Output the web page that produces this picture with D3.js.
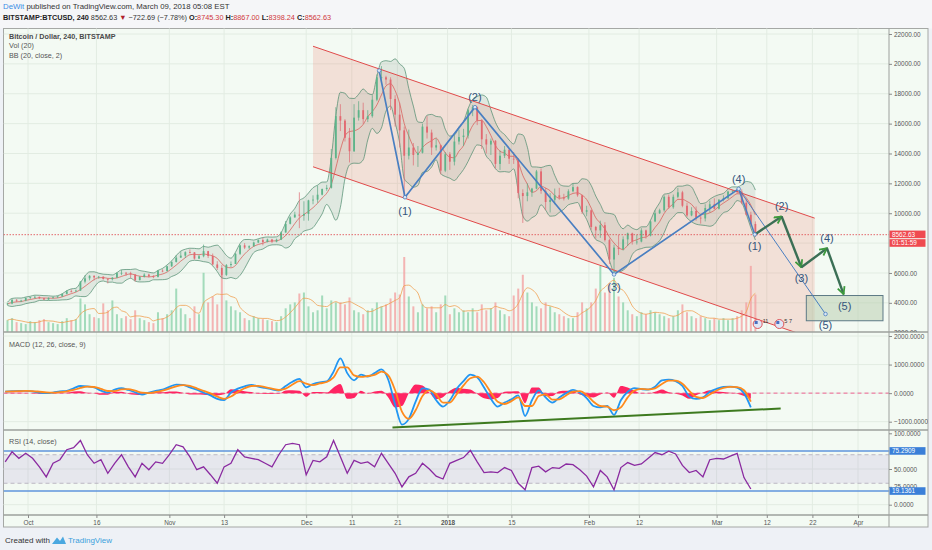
<!DOCTYPE html>
<html>
<head>
<meta charset="utf-8">
<script src="https://cdn.jsdelivr.net/npm/d3@7"></script>
<style>
body{margin:0;background:#eef1f6;}
svg{display:block;font-family:"Liberation Sans",Arial,sans-serif;}
</style>
</head>
<body>
<svg id="chart" width="932" height="550"></svg>
<script>
// daily bars, first bar = 26 Sep 2017
startDay = new Date(2017, 8, 26);
firstOpen = 3900;
closes = [3950,4200,4150,4150,4330,
 4380,4400,4310,4220,4330,4370,4430,4600,4770,4760,4820,5420,5640,5810,5700,5750,5600,5580,5690,5990,6010,5980,5900,5520,5730,5890,5770,5740,6150,6130,6450,
 6740,7030,7160,7390,7380,6960,7120,7460,7140,6570,6340,5870,6530,6600,7280,7850,7700,7790,8040,8200,8070,8240,8100,8230,8710,9290,9720,9910,9840,9950,
 10860,10910,11240,11620,11700,13700,16500,16200,15050,14150,16400,16900,16300,16500,17600,19100,19100,18950,17650,16600,15550,13850,14400,13900,14050,15800,15400,14400,14550,12850,13950,
 13450,14800,15100,15200,16900,17100,16200,14950,14600,14850,13300,13850,14250,13650,13600,11350,11150,11400,11650,12800,11500,10750,10900,11200,11050,10980,11470,11750,11200,10100,10200,
 9080,8850,9200,8200,6900,7700,7600,8250,8650,8100,8100,8850,8500,9450,10000,10200,11100,10400,11100,11400,10500,9850,10150,9700,9650,10350,10600,10300,
 10900,11000,11450,11500,11450,10700,9900,9280,8560];
highs = [4000,4250,4250,4200,4360,
 4400,4480,4420,4320,4360,4420,4450,4620,4850,4900,4880,5450,5850,5850,5840,5800,5780,5640,5720,6050,6200,6070,6080,5900,5800,5980,5950,5850,6200,6250,6480,
 6780,7200,7450,7450,7580,7400,7220,7900,7480,7300,6790,6540,6600,6770,7330,7900,8000,7850,8100,8250,8350,8300,8280,8300,8780,9480,9800,10100,11400,10800,
 10900,11200,11850,11650,11900,14300,17100,17300,16300,15700,17300,17500,17400,16900,17900,19300,19850,19200,19100,17900,17400,15800,15600,14700,14500,16000,16500,15600,15000,14600,14100,
 14100,15250,15600,15650,17000,17250,17150,16300,15300,15000,14900,14200,14500,14300,14100,13700,11600,12000,11700,12900,13000,11700,11350,11650,11700,11300,11600,12000,11800,11250,10500,
 10250,9150,9500,9400,8300,7900,8550,8450,8700,8700,8550,9000,8900,9500,10200,10300,11200,11250,11250,11700,11500,10700,10400,10450,9880,10600,10850,11000,
 10950,11200,11500,11530,11650,11600,10950,10100,9450];
lows = [3850,3900,4050,4050,4100,
 4250,4300,4250,4180,4200,4300,4330,4400,4560,4700,4750,4800,5300,5500,5500,5620,5550,5300,5500,5650,5850,5800,5650,5420,5500,5700,5700,5650,5700,6050,6100,
 6400,6700,7000,7000,7300,6900,6950,7050,7000,6500,6200,5700,5800,6400,6600,7200,7600,7600,7750,8000,7850,8050,8000,8050,8200,8700,9250,9700,9000,9500,
 9500,10600,10700,11200,11500,11650,13600,15500,14800,13400,14100,16200,16000,16100,16400,17500,18800,18600,16900,15800,14400,11100,13600,13200,13100,14000,15000,13900,14200,12600,12750,
 12900,13200,14600,14500,15000,16500,15900,14300,14000,13900,13000,12900,13700,13300,13300,11000,9350,10800,11100,11600,11300,10200,10050,10600,10900,10850,10900,11400,11100,9950,9800,
 8900,8300,8350,8100,6600,5920,7200,7500,7800,7900,7900,8050,8300,8450,9400,9950,10100,10300,10300,11000,10400,9750,9800,9500,9300,9450,10050,10250,
 10250,10800,10950,11300,11300,10600,9850,9150,8400];
volumes = [12,14,10,9,8,
 11,10,12,13,10,9,8,11,14,12,13,34,28,18,15,14,29,22,32,18,14,16,13,22,14,12,10,9,20,14,18,
 22,44,24,18,14,26,18,60,30,36,28,58,32,26,22,20,14,12,16,14,13,12,11,10,16,24,28,30,39,40,
 26,20,22,37,24,32,30,30,28,35,22,20,18,22,24,30,26,28,34,40,38,76,36,26,20,28,24,26,20,28,37,
 18,24,20,22,20,24,20,28,22,24,30,22,18,16,37,44,58,40,30,26,24,30,26,20,18,16,14,14,20,30,24,
 30,44,67,40,48,55,36,30,22,18,16,20,18,22,20,18,16,14,16,22,28,20,16,14,16,14,12,14,
 12,14,12,14,16,22,30,67,38];

// oscillators read every 36 hours from the start
oscStepHours = 36;
macdLine = [56,70,80,80,60,20,0,20,60,80, 170,250,240,200,90,20,120,175,110,30,
 -50,20,80,120,220,300,290,200,120,20, -80,-200,-240,20,160,240,290,230,180,130,
 85,250,400,500,200,320,380,410,750,1220, 700,450,650,580,700,830,470,-400,-1100,-900,
 -300,170,120,-250,-470,-250,150,420,650,550, 200,-200,-470,-330,-220,-80,-800,-250,100,-150,
 -330,-150,0,117,20,-175,-450,-500,-450,-760, -250,50,175,140,120,220,450,470,420,250,
 -117,-200,-150,50,150,220,230,190,0,-500];
macdSignal = [50,60,70,78,72,50,25,15,35,65, 110,180,225,215,150,75,70,130,140,85,
 15,0,40,90,160,240,280,250,170,80, -10,-120,-200,-120,40,170,250,255,210,160,
 110,160,300,420,330,280,340,390,550,900, 900,620,570,600,640,750,620,100,-650,-900,
 -600,-100,100,-40,-330,-330,-40,270,520,580, 380,20,-300,-380,-280,-150,-450,-450,-100,-40,
 -230,-220,-80,50,70,-60,-300,-450,-470,-600, -500,-150,90,150,135,170,320,440,440,330,
 80,-130,-170,-50,90,180,220,210,100,-300];
rsiValues = [60,74,65,72,65,53,39,58,63,77, 80,90,70,58,63,44,58,70,53,39,
 58,49,60,58,70,84,81,67,49,53, 42,30,53,58,77,67,65,63,58,53,
 70,84,86,84,42,62,60,67,90,67, 44,62,58,60,53,72,58,44,25,39,
 44,58,50,40,36,58,62,66,76,60, 45,46,45,52,48,30,21,52,54,46,
 52,51,57,56,49,40,25,48,39,21, 52,59,55,57,65,73,70,75,71,55,
 45,48,39,63,65,64,68,72,38,22];

// drawings
channelDates = ["2017-12-02T12:00","2018-03-22T12:00"];
channelTop = [21180, 9670];
channelBottom = [13110, 1580];
waveDates = ["2017-12-17T00:00","2017-12-22T16:00","2018-01-07T00:00","2018-02-06T12:00","2018-03-05T20:00"];
waveValues = [19550, 11070, 17100, 5900, 11630];
waveLabels = ["", "(1)", "(2)", "(3)", "(4)"];
projDates = ["2018-03-09T09:00","2018-03-15T06:00","2018-03-19T14:00","2018-03-25T05:00","2018-03-28T20:00"];
projValues = [8580, 9780, 6380, 7650, 4580];
projLabels = ["(1)", "(2)", "(3)", "(4)"];
altEndDate = "2018-03-24T21:00";
altEndValue = 3250;
targetDates = ["2018-03-20T16:00","2018-04-06T11:30"];
targetValues = [4490, 2800];
macdTrendDates = ["2017-12-19T22:00","2018-03-15T01:00"];
macdTrendValues = [-1200, -540];
lastPrice = 8562.63;
rsiLevels = [75.2909, 19.1361];

priceGrid = [2000,4000,6000,8000,10000,12000,14000,16000,18000,20000,22000];
priceTicks = [2000,4000,6000,10000,12000,14000,16000,18000,20000,22000];
macdTicks = [2000,1000,0,-1000];
rsiTicks = [100,50,25,0];
timeTicks = ["2017-10-01","2017-10-16","2017-11-01","2017-11-13","2017-12-01","2017-12-11","2017-12-21","2018-01-01","2018-01-15","2018-02-01","2018-02-12","2018-03-01","2018-03-12","2018-03-22","2018-04-01"];
timeLabels = ["Oct","16","Nov","13","Dec","11","21","2018","15","Feb","12","Mar","12","22","Apr"];

parseT = d3.timeParse("%Y-%m-%dT%H:%M");
parseD = d3.timeParse("%Y-%m-%d");

L = 3.5; R = 889; AX = 928;
pTop = 28.5; pBot = 332; mBot = 430; rBot = 515; fBot = 527;

x = d3.scaleTime().domain([new Date(2017,9,1), new Date(2018,3,1)]).range([28, 858]);
y = d3.scaleLinear().domain([2000,22000]).range([332.7,34]);
yv = d3.scaleLinear().domain([0,76]).range([pBot,257]);
ym = d3.scaleLinear().domain([-1000,2000]).range([421.7,336]);
yr = d3.scaleLinear().domain([0,100]).range([504.7,433.3]);

svg = d3.select("#chart");
defs = svg.append("defs");
function clip(id, x0, y0, x1, y1){
	defs.append("clipPath").attr("id",id).append("rect")
		.attr("x",x0).attr("y",y0).attr("width",x1-x0).attr("height",y1-y0);
}
clip("cp", L, pTop, R, pBot);
clip("cm", L, pBot, R, mBot);
clip("cr", L, mBot, R, rBot);
clip("cpa", R, pTop, AX, pBot);
clip("cma", R, pBot, AX, mBot);
clip("cra", R, mBot, AX, rBot);

mk = defs.append("marker").attr("id","arrow").attr("viewBox","0 0 10 10")
	.attr("refX",9).attr("refY",5).attr("markerWidth",9).attr("markerHeight",9)
	.attr("markerUnits","userSpaceOnUse").attr("orient","auto");
mk.append("path").attr("d","M1,1 L9,5 L1,9").attr("fill","none")
	.attr("stroke","#3d9a3d").attr("stroke-width",2);

// backgrounds
svg.append("rect").attr("width",932).attr("height",550).attr("fill","#eef1f6");
svg.append("rect").attr("width",932).attr("height",pTop).attr("fill","#f5f6f8");
svg.append("rect").attr("x",L).attr("y",pTop).attr("width",AX-L).attr("height",fBot-pTop)
	.attr("fill","#f3faf3").attr("stroke","#a5a8a5");

// header
h1 = svg.append("text").attr("x",3).attr("y",8.8).style("font-size","7.8px");
h1.append("tspan").attr("fill","#3a8ee6").text("DeWit");
h1.append("tspan").attr("fill","#333").text(" published on TradingView.com, March 09, 2018 05:08 EST");
h2 = svg.append("text").attr("x",3).attr("y",19.6).style("font-size","7.3px").attr("fill","#333");
h2.append("tspan").attr("font-weight","bold").attr("fill","#222").text("BITSTAMP:BTCUSD, 240");
h2.append("tspan").text(" 8562.63 ");
h2.append("tspan").attr("fill","#b0202a").text("▼");
h2.append("tspan").text(" −722.69 (−7.78%) ");
[["O:","8745.30"],[" H:","8867.00"],[" L:","8398.24"],[" C:","8562.63"]].forEach(function(p){
	h2.append("tspan").attr("font-weight","bold").attr("fill","#222").text(p[0]);
	h2.append("tspan").attr("fill","#d0363c").text(p[1]);
});

// grid
grid = svg.append("g").attr("stroke","#e2ece2").attr("stroke-width",1);
timeTicks.forEach(function(t){
	let tx = x(parseD(t));
	grid.append("line").attr("x1",tx).attr("x2",tx).attr("y1",pTop).attr("y2",rBot);
});
priceGrid.forEach(function(v){
	grid.append("line").attr("x1",L).attr("x2",R).attr("y1",y(v)).attr("y2",y(v)).attr("clip-path","url(#cp)");
});
macdTicks.forEach(function(v){
	grid.append("line").attr("x1",L).attr("x2",R).attr("y1",ym(v)).attr("y2",ym(v)).attr("clip-path","url(#cm)");
});
[50,0].forEach(function(v){
	grid.append("line").attr("x1",L).attr("x2",R).attr("y1",yr(v)).attr("y2",yr(v));
});

// ---------- price pane ----------
pp = svg.append("g").attr("clip-path","url(#cp)");

chTop = channelDates.map((d,i)=>[x(parseT(d)), y(channelTop[i])]);
chBot = channelDates.map((d,i)=>[x(parseT(d)), y(channelBottom[i])]);
pp.append("path").attr("d","M"+[chTop[0],chTop[1],chBot[1],chBot[0]].join("L")+"Z")
	.attr("fill","#f07a6a").attr("fill-opacity",0.2);

bars = closes.map(function(c,i){
	return {d: d3.timeHour.offset(startDay, i*24+12), o: i ? closes[i-1] : firstOpen, h: highs[i], l: lows[i], c: c, v: volumes[i]};
});
bw = 1.8;

// volume + MA
pp.append("g").selectAll("rect").data(bars).join("rect")
	.attr("x",d=>x(d.d)-1).attr("width",2)
	.attr("y",d=>yv(d.v)).attr("height",d=>pBot-yv(d.v))
	.attr("fill",d=>d.c>=d.o ? "#8fd3ac" : "#f3a3a3").attr("fill-opacity",0.8);
volMA = bars.map((d,i)=>({d:d.d, v:d3.mean(volumes.slice(Math.max(0,i-3), i+1))}));
pp.append("path").datum(volMA)
	.attr("d",d3.line().x(d=>x(d.d)).y(d=>yv(d.v)).curve(d3.curveMonotoneX))
	.attr("fill","none").attr("stroke","#f0a050").attr("stroke-width",0.8);

// bollinger bands (4 days ~ 20 four-hour bars)
bb = bars.map(function(d,i){
	let s = [];
	for(let j=Math.max(0,i-3); j<=i; j++) s.push(highs[j], lows[j], closes[j]);
	let m = d3.mean(s);
	let sd = Math.sqrt(d3.mean(s, v=>(v-m)*(v-m)));
	return {d:d.d, m:m, u:m+1.8*sd, lo:m-1.8*sd};
});
pp.append("path").datum(bb)
	.attr("d",d3.area().x(d=>x(d.d)).y0(d=>y(d.lo)).y1(d=>y(d.u)).curve(d3.curveMonotoneX))
	.attr("fill","#9aa8a0").attr("fill-opacity",0.22);
["u","lo"].forEach(function(k){
	pp.append("path").datum(bb)
		.attr("d",d3.line().x(d=>x(d.d)).y(d=>y(d[k])).curve(d3.curveMonotoneX))
		.attr("fill","none").attr("stroke","#4a8a6c").attr("stroke-width",0.7);
});
pp.append("path").datum(bb)
	.attr("d",d3.line().x(d=>x(d.d)).y(d=>y(d.m)).curve(d3.curveMonotoneX))
	.attr("fill","none").attr("stroke","#d9534f").attr("stroke-width",0.7);

// candles
cg = pp.append("g");
cg.selectAll("line").data(bars).join("line")
	.attr("x1",d=>x(d.d)).attr("x2",d=>x(d.d)).attr("y1",d=>y(d.h)).attr("y2",d=>y(d.l))
	.attr("stroke",d=>d.c>=d.o ? "#5aa882" : "#de6a72").attr("stroke-width",0.7);
cg.selectAll("rect").data(bars).join("rect")
	.attr("x",d=>x(d.d)-bw/2).attr("width",bw)
	.attr("y",d=>y(Math.max(d.o,d.c))).attr("height",d=>Math.max(0.8, Math.abs(y(d.o)-y(d.c))))
	.attr("fill",d=>d.c>=d.o ? "#5db48a" : "#e26870");

// last price line
pp.append("line").attr("x1",L).attr("x2",R).attr("y1",y(lastPrice)).attr("y2",y(lastPrice))
	.attr("stroke","#e0454a").attr("stroke-width",0.8).attr("stroke-dasharray","1.5,1.5");

// channel borders
[chTop, chBot].forEach(function(c){
	pp.append("line").attr("x1",c[0][0]).attr("y1",c[0][1]).attr("x2",c[1][0]).attr("y2",c[1][1])
		.attr("stroke","#e04a4a").attr("stroke-width",1);
});

// elliott waves
wave = waveDates.map((d,i)=>[x(parseT(d)), y(waveValues[i])]);
proj = projDates.map((d,i)=>[x(parseT(d)), y(projValues[i])]);
altEnd = [x(parseT(altEndDate)), y(altEndValue)];

tb = [x(parseT(targetDates[0])), y(targetValues[0]), x(parseT(targetDates[1])), y(targetValues[1])];
pp.append("rect").attr("x",tb[0]).attr("y",tb[1]).attr("width",tb[2]-tb[0]).attr("height",tb[3]-tb[1])
	.attr("fill","#b9cdb1").attr("fill-opacity",0.55).attr("stroke","#5d7a86").attr("stroke-width",1);

pp.append("path").attr("d","M"+wave.join("L")).attr("fill","none")
	.attr("stroke","#4a7fc1").attr("stroke-width",1.7);
pp.append("line").attr("x1",wave[4][0]).attr("y1",wave[4][1]).attr("x2",proj[0][0]).attr("y2",proj[0][1])
	.attr("stroke","#4a7fc1").attr("stroke-width",1.5);
pp.append("line").attr("x1",wave[4][0]).attr("y1",wave[4][1]).attr("x2",altEnd[0]).attr("y2",altEnd[1])
	.attr("stroke","#4a7fc1").attr("stroke-width",1);
for(let i=1;i<proj.length;i++){
	pp.append("line").attr("x1",proj[i-1][0]).attr("y1",proj[i-1][1]).attr("x2",proj[i][0]).attr("y2",proj[i][1])
		.attr("stroke","#3b6f55").attr("stroke-width",2.4).attr("marker-end","url(#arrow)");
}
wave.concat([proj[0], altEnd]).forEach(function(p){
	pp.append("circle").attr("cx",p[0]).attr("cy",p[1]).attr("r",1.8)
		.attr("fill","#dce7f4").attr("stroke","#4a7fc1").attr("stroke-width",0.8);
});

labels = pp.append("g").style("font-size","11px").attr("fill","#34547c").attr("text-anchor","middle");
waveOffsets = [0, 14, -10, 13, -10];
wave.forEach(function(p,i){
	if(waveLabels[i]) labels.append("text").attr("x",p[0]).attr("y",p[1]+waveOffsets[i]).attr("dy","0.35em").text(waveLabels[i]);
});
projOffsets = [12, -10, 11, -10];
projLabels.forEach(function(t,i){
	labels.append("text").attr("x",proj[i][0]).attr("y",proj[i][1]+projOffsets[i]).attr("dy","0.35em").text(t);
});
labels.append("text").attr("x",(tb[0]+tb[2])/2).attr("y",(tb[1]+tb[3])/2-1.5).attr("dy","0.35em").text("(5)");
labels.append("text").attr("x",altEnd[0]).attr("y",altEnd[1]+11).attr("dy","0.35em").text("(5)");

// event markers
[["2018-03-10T00:00","11"],["2018-03-14T18:00","5 7"]].forEach(function(e){
	let ex = x(parseT(e[0]));
	pp.append("circle").attr("cx",ex).attr("cy",pBot-8).attr("r",4.5)
		.attr("fill","#dfe6f6").attr("stroke","#e0555a").attr("stroke-width",1);
	pp.append("rect").attr("x",ex-3).attr("y",pBot-11).attr("width",3).attr("height",3).attr("fill","#4a6fc0");
	pp.append("text").attr("x",ex+5).attr("y",pBot-9).style("font-size","5.5px").attr("fill","#333").text(e[1]);
});

// ---------- MACD pane ----------
osc = macdLine.map((v,k)=>({d: d3.timeHour.offset(startDay, k*oscStepHours), m: v, s: macdSignal[k], r: rsiValues[k]}));
mp = svg.append("g").attr("clip-path","url(#cm)");
mp.append("line").attr("x1",L).attr("x2",R).attr("y1",ym(0)).attr("y2",ym(0))
	.attr("stroke","#f06292").attr("stroke-width",1).attr("stroke-dasharray","4,3");
mp.append("path").datum(osc)
	.attr("d",d3.area().x(d=>x(d.d)).y0(ym(0)).y1(d=>ym(d.m-d.s)).curve(d3.curveMonotoneX))
	.attr("fill","#ff2462");
mp.append("path").datum(osc)
	.attr("d",d3.line().x(d=>x(d.d)).y(d=>ym(d.m)).curve(d3.curveMonotoneX))
	.attr("fill","none").attr("stroke","#2196f3").attr("stroke-width",1.8);
mp.append("path").datum(osc)
	.attr("d",d3.line().x(d=>x(d.d)).y(d=>ym(d.s)).curve(d3.curveMonotoneX))
	.attr("fill","none").attr("stroke","#ff8a1c").attr("stroke-width",1.8);
mp.append("line")
	.attr("x1",x(parseT(macdTrendDates[0]))).attr("y1",ym(macdTrendValues[0]))
	.attr("x2",x(parseT(macdTrendDates[1]))).attr("y2",ym(macdTrendValues[1]))
	.attr("stroke","#3d7a1f").attr("stroke-width",2);

// ---------- RSI pane ----------
rp = svg.append("g").attr("clip-path","url(#cr)");
rp.append("rect").attr("x",L).attr("width",R-L).attr("y",yr(70)).attr("height",yr(30)-yr(70))
	.attr("fill","#9a78d0").attr("fill-opacity",0.14);
[70,30].forEach(function(v){
	rp.append("line").attr("x1",L).attr("x2",R).attr("y1",yr(v)).attr("y2",yr(v))
		.attr("stroke","#b0aab8").attr("stroke-dasharray","4,3").attr("stroke-width",0.8);
});
rsiLevels.forEach(function(v){
	rp.append("line").attr("x1",L).attr("x2",R).attr("y1",yr(v)).attr("y2",yr(v))
		.attr("stroke","#5f95dc").attr("stroke-width",1.5);
});
rp.append("path").datum(osc)
	.attr("d",d3.line().x(d=>x(d.d)).y(d=>yr(d.r)))
	.attr("fill","none").attr("stroke","#8a2aa0").attr("stroke-width",1.3);

// ---------- pane frames ----------
fr = svg.append("g").attr("stroke","#9da09d");
[pBot, mBot, rBot].forEach(function(v){
	fr.append("line").attr("x1",L).attr("x2",AX).attr("y1",v).attr("y2",v).attr("stroke-width",1.3);
});
fr.append("line").attr("x1",R).attr("x2",R).attr("y1",pTop).attr("y2",fBot);

// legends
lg = svg.append("g").style("font-size","7.2px").attr("fill","#555");
lg.append("text").attr("x",9).attr("y",38.5).attr("font-weight","bold").attr("fill","#4a4a4a").text("Bitcoin / Dollar, 240, BITSTAMP");
lg.append("text").attr("x",9).attr("y",48.2).text("Vol (20)");
lg.append("text").attr("x",9).attr("y",57.6).text("BB (20, close, 2)");
lg.append("text").attr("x",9).attr("y",346.5).text("MACD (12, 26, close, 9)");
lg.append("text").attr("x",9).attr("y",443.5).text("RSI (14, close)");

// axes
function styleAxis(g){
	g.select(".domain").remove();
	g.selectAll("line").attr("stroke","#8a8a8a");
	g.selectAll("text").attr("fill","#555").style("font-size","6.4px").style("font-family","'Liberation Sans',Arial,sans-serif");
}
function rightAxis(clipId, scale, ticks, fmt){
	svg.append("g").attr("clip-path","url(#"+clipId+")")
		.append("g").attr("transform","translate("+R+",0)")
		.call(d3.axisRight(scale).tickValues(ticks).tickFormat(d3.format(fmt)).tickSize(3).tickPadding(2))
		.call(styleAxis);
}
rightAxis("cpa", y, priceTicks, ".2f");
rightAxis("cma", ym, macdTicks, ".4f");
rightAxis("cra", yr, rsiTicks, ".4f");
tAxis = svg.append("g").attr("transform","translate(0,"+rBot+")")
	.call(d3.axisBottom(x).tickValues(timeTicks.map(parseD)).tickFormat((d,i)=>timeLabels[i]).tickSize(3).tickPadding(2.5))
	.call(styleAxis);
tAxis.selectAll("text").filter(function(d,i){ return timeLabels[i]=="2018"; }).attr("font-weight","bold");

// axis badges
function badge(yc, txt, col){
	svg.append("rect").attr("x",R+0.5).attr("y",yc-3.8).attr("width",36).attr("height",7.6).attr("fill",col);
	svg.append("text").attr("x",R+3).attr("y",yc).attr("dy","0.35em").style("font-size","6.4px")
		.attr("fill","#fff").text(txt);
}
badge(y(lastPrice)-0.3, "8562.63", "#ef4a50");
badge(y(lastPrice)+8.3, "01:51:59", "#ef4a50");
badge(yr(rsiLevels[0]), "75.2909", "#3a7fd8");
badge(yr(rsiLevels[1]), "19.1361", "#3a7fd8");

// footer
svg.append("text").attr("x",5).attr("y",543).style("font-size","8px").attr("fill","#333").text("Created with");
logo = svg.append("g").attr("fill","#4aa8e0");
logo.append("path").attr("d","M52,544 L57,537.5 L60,541 L63,536.5 L66,544 Z");
svg.append("text").attr("x",68).attr("y",543).style("font-size","8px").attr("fill","#3aa0dc").text("TradingView");
</script>
</body>
</html>
